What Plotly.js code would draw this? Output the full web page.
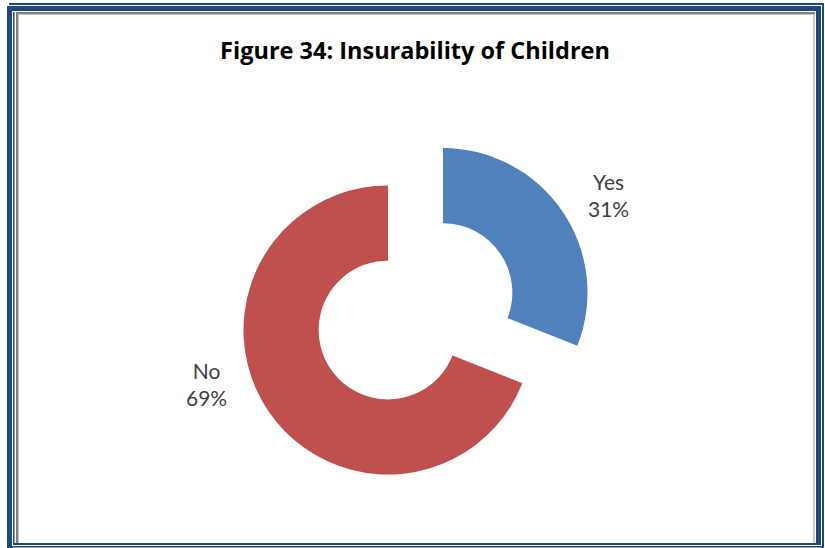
<!DOCTYPE html>
<html>
<head>
<meta charset="utf-8">
<script src="https://cdn.plot.ly/plotly-3.0.1.min.js"></script>
<style>html,body{margin:0;padding:0;background:#fff;}#chart{width:825px;height:548px;}</style>
</head>
<body>
<div id="chart"></div>
<script>
// Data
var categories = ["Yes", "No"];
var values = [31, 69];
var colors = ["#4F81BD", "#C0504D"];
var pulls = [0.46, 0];

var W = 825, H = 548;
function px(x) { return x / W; }
function py(y) { return 1 - y / H; }
function rect(x0, y0, x1, y1, col) {
  return {type: "rect", xref: "paper", yref: "paper", x0: px(x0), x1: px(x1), y0: py(y1), y1: py(y0),
          fillcolor: col, line: {width: 0}, layer: "above"};
}
var navy = "#1F497D";
var shapes = [
  rect(9, 3, 824, 5, navy),
  rect(7, 6, 821, 11, navy),
  rect(7, 6, 12, 548, navy),
  rect(13, 12, 14.5, 545, navy),
  rect(816, 6, 821, 545, navy),
  rect(822, 3, 824, 548, navy),
  rect(13, 543, 821, 545, navy),
  rect(7, 546, 824, 547.5, navy),
  rect(16, 12, 815, 14, "#808080"),
  rect(16, 12, 18, 543, "#808080"),
  rect(18, 14, 815, 15, "#C8C8C8"),
  rect(18, 14, 19, 543, "#C8C8C8"),
  rect(813, 14, 815, 543, "#C8C8C8")
];

var total = values.reduce(function (a, b) { return a + b; }, 0);
var labelPos = [[608, 195], [206, 384]];
var annotations = categories.map(function (c, i) {
  return {
    xref: "paper", yref: "paper", x: px(labelPos[i][0]), y: py(labelPos[i][1]),
    xanchor: "center", yanchor: "middle", showarrow: false, align: "center",
    text: c + "<br>" + Math.round(values[i] / total * 100) + "%",
    font: {family: "Lato, 'Open Sans', sans-serif", size: 21, color: "#404040"}
  };
});

var trace = {
  type: "pie",
  labels: categories,
  values: values,
  hole: 0.48,
  pull: pulls,
  sort: false,
  direction: "clockwise",
  rotation: 0,
  textinfo: "none",
  hoverinfo: "label+percent",
  marker: {colors: colors, line: {width: 0}},
  domain: {x: [px(177), px(599)], y: [py(541), py(119)]},
  showlegend: false
};

var layout = {
  width: W, height: H,
  margin: {l: 0, r: 0, t: 0, b: 0},
  paper_bgcolor: "#fff",
  plot_bgcolor: "#fff",
  title: {
    text: "<b>Figure 34: Insurability of Children</b>",
    x: px(415), xanchor: "center", xref: "paper",
    y: py(51), yanchor: "middle", yref: "paper",
    font: {family: "'Open Sans', Lato, sans-serif", size: 23.5, color: "#000"}
  },
  shapes: shapes,
  annotations: annotations
};

Plotly.newPlot("chart", [trace], layout, {displayModeBar: false, staticPlot: true});
</script>
</body>
</html>
